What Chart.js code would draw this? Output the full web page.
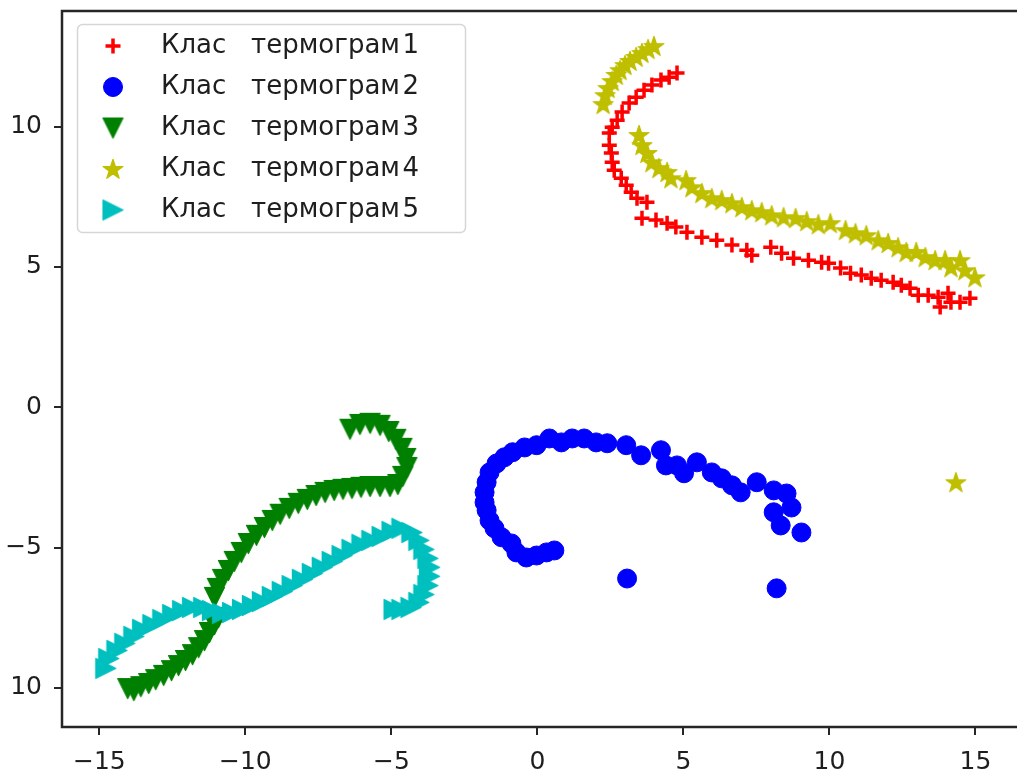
<!DOCTYPE html>
<html>
<head>
<meta charset="utf-8">
<script src="https://cdn.jsdelivr.net/npm/chart.js@4.4.1/dist/chart.umd.min.js"></script>
<style>
  html, body { margin: 0; padding: 0; background: #fff; overflow: hidden; }
  #wrap { width: 1017px; height: 772px; overflow: hidden; }
</style>
</head>
<body>
<div id="wrap"><canvas id="myChart" width="1030" height="772"></canvas></div>
<script>
// values
const class1X = [4.78, 4.51, 4.23, 3.92, 3.65, 3.38, 3.14, 2.90, 2.73, 2.56, 2.46, 2.46, 2.53, 2.56, 2.63, 2.87, 3.04, 3.21, 3.41, 3.75, 3.58, 4.06, 4.44, 4.74, 5.12, 5.63, 6.14, 6.66, 7.17, 7.34, 7.99, 8.36, 8.77, 9.28, 9.73, 9.97, 10.38, 10.72, 11.09, 11.43, 11.77, 12.18, 12.46, 12.76, 13.04, 13.38, 13.72, 13.79, 14.06, 14.16, 14.47, 14.81];
const class1Y = [11.91, 11.76, 11.66, 11.48, 11.30, 11.05, 10.84, 10.52, 10.23, 9.98, 9.77, 9.34, 9.06, 8.73, 8.45, 8.16, 7.91, 7.66, 7.45, 7.31, 6.74, 6.67, 6.56, 6.42, 6.24, 6.06, 5.95, 5.78, 5.60, 5.42, 5.70, 5.49, 5.31, 5.24, 5.17, 5.13, 4.96, 4.78, 4.71, 4.60, 4.53, 4.46, 4.35, 4.24, 3.99, 3.99, 3.92, 3.57, 4.06, 3.74, 3.74, 3.89];

const class2X = [0.58, 0.31, -0.03, -0.38, -0.72, -0.89, -1.23, -1.47, -1.64, -1.74, -1.81, -1.81, -1.74, -1.64, -1.40, -1.13, -0.85, -0.44, -0.03, 0.41, 0.82, 1.19, 1.60, 2.01, 2.39, 3.04, 3.55, 4.23, 4.40, 4.78, 5.02, 5.46, 5.97, 6.31, 6.66, 6.96, 7.51, 8.09, 8.53, 8.70, 8.09, 8.33, 9.04, 3.07, 8.19];
const class2Y = [-5.10, -5.17, -5.28, -5.35, -5.17, -4.85, -4.63, -4.31, -4.03, -3.67, -3.39, -3.03, -2.67, -2.32, -2.00, -1.78, -1.60, -1.43, -1.35, -1.11, -1.25, -1.11, -1.11, -1.25, -1.28, -1.35, -1.71, -1.53, -2.07, -2.07, -2.35, -1.96, -2.32, -2.53, -2.78, -3.03, -2.67, -2.96, -3.07, -3.57, -3.74, -4.21, -4.46, -6.10, -6.45];

const class3X = [-14.03, -13.82, -13.58, -13.31, -13.07, -12.80, -12.53, -12.29, -12.05, -11.81, -11.60, -11.40, -11.23, -11.06, -10.92, -11.06, -10.96, -10.78, -10.58, -10.38, -10.14, -9.90, -9.62, -9.35, -9.08, -8.81, -8.50, -8.19, -7.88, -7.58, -7.27, -6.96, -6.66, -6.35, -6.04, -5.73, -5.39, -5.05, -4.78, -4.61, -4.47, -4.51, -4.64, -4.85, -5.09, -5.39, -5.73, -6.08, -6.42];
const class3Y = [-10.02, -10.09, -9.95, -9.84, -9.70, -9.55, -9.38, -9.20, -9.02, -8.81, -8.56, -8.31, -8.02, -7.74, -7.49, -6.77, -6.45, -6.13, -5.81, -5.49, -5.17, -4.85, -4.56, -4.28, -4.03, -3.81, -3.60, -3.42, -3.28, -3.14, -3.03, -2.96, -2.92, -2.89, -2.85, -2.82, -2.82, -2.82, -2.75, -2.46, -2.14, -1.82, -1.46, -1.14, -0.86, -0.64, -0.57, -0.61, -0.78];

const class4X = [3.99, 3.79, 3.58, 3.38, 3.17, 3.00, 2.83, 2.70, 2.56, 2.42, 2.32, 2.25, 3.48, 3.58, 3.75, 3.92, 4.16, 4.44, 4.57, 5.09, 5.29, 5.63, 5.97, 6.31, 6.66, 7.00, 7.34, 7.68, 8.02, 8.43, 8.84, 9.22, 9.62, 10.03, 10.55, 10.89, 11.26, 11.67, 12.01, 12.35, 12.63, 12.97, 13.28, 13.62, 13.96, 14.16, 14.47, 14.64, 14.98, 14.33];
const class4Y = [12.87, 12.76, 12.62, 12.48, 12.34, 12.19, 12.01, 11.84, 11.62, 11.37, 11.12, 10.80, 9.70, 9.34, 9.06, 8.73, 8.52, 8.38, 8.16, 8.09, 7.84, 7.63, 7.45, 7.38, 7.27, 7.13, 7.02, 6.95, 6.84, 6.77, 6.74, 6.63, 6.52, 6.56, 6.31, 6.20, 6.13, 5.95, 5.85, 5.70, 5.53, 5.53, 5.35, 5.24, 5.24, 4.99, 5.24, 4.88, 4.63, -2.67];

const class5X = [-14.78, -14.68, -14.40, -14.13, -13.82, -13.52, -13.17, -12.83, -12.49, -12.15, -11.81, -11.43, -11.13, -10.78, -10.44, -10.10, -9.76, -9.42, -9.08, -8.74, -8.40, -8.05, -7.71, -7.37, -7.03, -6.69, -6.35, -6.01, -5.67, -5.32, -4.98, -4.64, -4.30, -4.06, -3.89, -3.75, -3.69, -3.69, -3.75, -3.89, -4.06, -4.33, -4.64, -4.91];
const class5Y = [-9.30, -8.95, -8.66, -8.41, -8.16, -7.91, -7.74, -7.56, -7.38, -7.24, -7.13, -7.13, -7.24, -7.34, -7.31, -7.20, -7.06, -6.92, -6.74, -6.56, -6.35, -6.13, -5.92, -5.70, -5.49, -5.28, -5.06, -4.88, -4.74, -4.60, -4.42, -4.31, -4.46, -4.74, -5.06, -5.38, -5.70, -6.02, -6.35, -6.67, -6.95, -7.13, -7.20, -7.20];

// hair space before the number, the digit sits almost against the word
const seriesLabels = ["Клас   термограм\u200A1", "Клас   термограм\u200A2", "Клас   термограм\u200A3", "Клас   термограм\u200A4", "Клас   термограм\u200A5"];
const seriesColors = ["#ff0000", "#0000ff", "#008000", "#bfbf00", "#00bfbf"];

const xTickValues = [-15, -10, -5, 0, 5, 10, 15];
const xTickLabels = ["−15", "−10", "−5", "0", "5", "10", "15"];
const yTickValues = [-10, -5, 0, 5, 10];
const yTickLabels = ["10", "−5", "0", "5", "10"];

const FONT = '"DejaVu Sans", "Liberation Sans", sans-serif';
const TEXT = "#1e1e1e";
const SPINE = "#262626";

function toPoints(xs, ys) {
  return xs.map((x, i) => ({ x: x, y: ys[i] }));
}

// matplotlib-like marker shapes
function markerCanvas(kind, color, r) {
  const size = Math.ceil(2 * r + 3);
  const c = document.createElement("canvas");
  c.width = size;
  c.height = size;
  const g = c.getContext("2d");
  const m = size / 2;
  g.fillStyle = color;
  g.strokeStyle = color;
  g.lineWidth = 1.2;
  g.lineJoin = "round";
  g.beginPath();
  if (kind === "down") {
    g.moveTo(m - r, m - r);
    g.lineTo(m + r, m - r);
    g.lineTo(m, m + r);
  } else if (kind === "right") {
    g.moveTo(m - r, m - r);
    g.lineTo(m + r, m);
    g.lineTo(m - r, m + r);
  } else if (kind === "star") {
    const inner = r * 0.382;
    for (let k = 0; k < 10; k++) {
      const rad = (k % 2 === 0 ? r : inner);
      const a = -Math.PI / 2 + k * Math.PI / 5;
      const px = m + rad * Math.cos(a);
      const py = m + 0.8 + rad * Math.sin(a);
      if (k === 0) g.moveTo(px, py);
      else g.lineTo(px, py);
    }
  }
  g.closePath();
  g.fill();
  g.stroke();
  return c;
}

const datasets = [
  {
    label: seriesLabels[0],
    data: toPoints(class1X, class1Y),
    pointStyle: "cross",
    pointRadius: 7.5,
    borderWidth: 3.5,
    borderColor: seriesColors[0],
    backgroundColor: seriesColors[0],
  },
  {
    label: seriesLabels[1],
    data: toPoints(class2X, class2Y),
    pointStyle: "circle",
    pointRadius: 9.5,
    borderWidth: 1,
    borderColor: seriesColors[1],
    backgroundColor: seriesColors[1],
  },
  {
    label: seriesLabels[2],
    data: toPoints(class3X, class3Y),
    pointStyle: markerCanvas("down", seriesColors[2], 10),
    pointRadius: 10,
    borderWidth: 0,
    borderColor: seriesColors[2],
    backgroundColor: seriesColors[2],
  },
  {
    label: seriesLabels[3],
    data: toPoints(class4X, class4Y),
    pointStyle: markerCanvas("star", seriesColors[3], 10.5),
    pointRadius: 10,
    borderWidth: 0,
    borderColor: seriesColors[3],
    backgroundColor: seriesColors[3],
  },
  {
    label: seriesLabels[4],
    data: toPoints(class5X, class5Y),
    pointStyle: markerCanvas("right", seriesColors[4], 10),
    pointRadius: 10,
    borderWidth: 0,
    borderColor: seriesColors[4],
    backgroundColor: seriesColors[4],
  },
];
// later classes on top, like matplotlib
datasets.forEach((ds, i) => (ds.order = datasets.length - i));

// box around the axes
const frame = {
  id: "frame",
  afterDatasetsDraw(chart) {
    const a = chart.chartArea;
    const ctx = chart.ctx;
    ctx.save();
    ctx.strokeStyle = SPINE;
    ctx.lineWidth = 2.5;
    ctx.strokeRect(a.left, a.top, a.right - a.left, a.bottom - a.top);
    ctx.restore();
  },
};

// legend inside the upper left corner
const innerLegend = {
  id: "innerLegend",
  afterDraw(chart) {
    const ctx = chart.ctx;
    const x0 = 77.5, y0 = 24.5, w = 388, h = 208, rr = 5;
    ctx.save();
    ctx.beginPath();
    ctx.moveTo(x0 + rr, y0);
    ctx.arcTo(x0 + w, y0, x0 + w, y0 + h, rr);
    ctx.arcTo(x0 + w, y0 + h, x0, y0 + h, rr);
    ctx.arcTo(x0, y0 + h, x0, y0, rr);
    ctx.arcTo(x0, y0, x0 + w, y0, rr);
    ctx.closePath();
    ctx.fillStyle = "rgba(255,255,255,0.8)";
    ctx.fill();
    ctx.strokeStyle = "#d6d6d6";
    ctx.lineWidth = 1.5;
    ctx.stroke();

    chart.data.datasets.forEach((ds, i) => {
      const y = 46 + i * 41;
      ctx.fillStyle = ds.backgroundColor;
      ctx.strokeStyle = ds.borderColor;
      ctx.lineWidth = ds.borderWidth;
      Chart.helpers.drawPoint(ctx, {
        pointStyle: ds.pointStyle,
        radius: ds.pointRadius,
        borderWidth: ds.borderWidth,
        rotation: 0,
      }, 113, y);
      ctx.fillStyle = TEXT;
      ctx.font = "26px " + FONT;
      ctx.textAlign = "left";
      ctx.textBaseline = "middle";
      ctx.fillText(ds.label, 161, y);
    });
    ctx.restore();
  },
};

const axisGrid = {
  display: true,
  drawOnChartArea: false,
  drawTicks: true,
  tickLength: 8,
  color: SPINE,
  lineWidth: 2,
};

const ctx = document.getElementById("myChart").getContext("2d");
const myChart = new Chart(ctx, {
  type: "scatter",
  data: { datasets: datasets },
  plugins: [frame, innerLegend],
  options: {
    responsive: false,
    animation: false,
    devicePixelRatio: 1,
    events: [],
    layout: { padding: { top: 11, right: 11, left: 0, bottom: 0 } },
    plugins: {
      legend: { display: false },
      tooltip: { enabled: false },
    },
    scales: {
      x: {
        type: "linear",
        min: -16.28,
        max: 16.49,
        afterBuildTicks: (axis) => {
          axis.ticks = xTickValues.map((v) => ({ value: v }));
        },
        afterFit: (axis) => {
          axis.height = 45;
          axis.paddingLeft = 0;
          axis.paddingRight = 0;
        },
        ticks: {
          autoSkip: false,
          maxRotation: 0,
          padding: 12,
          color: TEXT,
          font: { family: FONT, size: 25 },
          callback: (value) => xTickLabels[xTickValues.indexOf(value)],
        },
        grid: axisGrid,
        border: { display: false },
      },
      y: {
        type: "linear",
        min: -11.39,
        max: 14.12,
        afterBuildTicks: (axis) => {
          axis.ticks = yTickValues.map((v) => ({ value: v }));
        },
        afterFit: (axis) => {
          axis.width = 62;
          axis.paddingTop = 0;
          axis.paddingBottom = 0;
        },
        ticks: {
          autoSkip: false,
          padding: 12,
          color: TEXT,
          font: { family: FONT, size: 25 },
          callback: (value) => yTickLabels[yTickValues.indexOf(value)],
        },
        grid: axisGrid,
        border: { display: false },
      },
    },
  },
});
</script>
</body>
</html>
